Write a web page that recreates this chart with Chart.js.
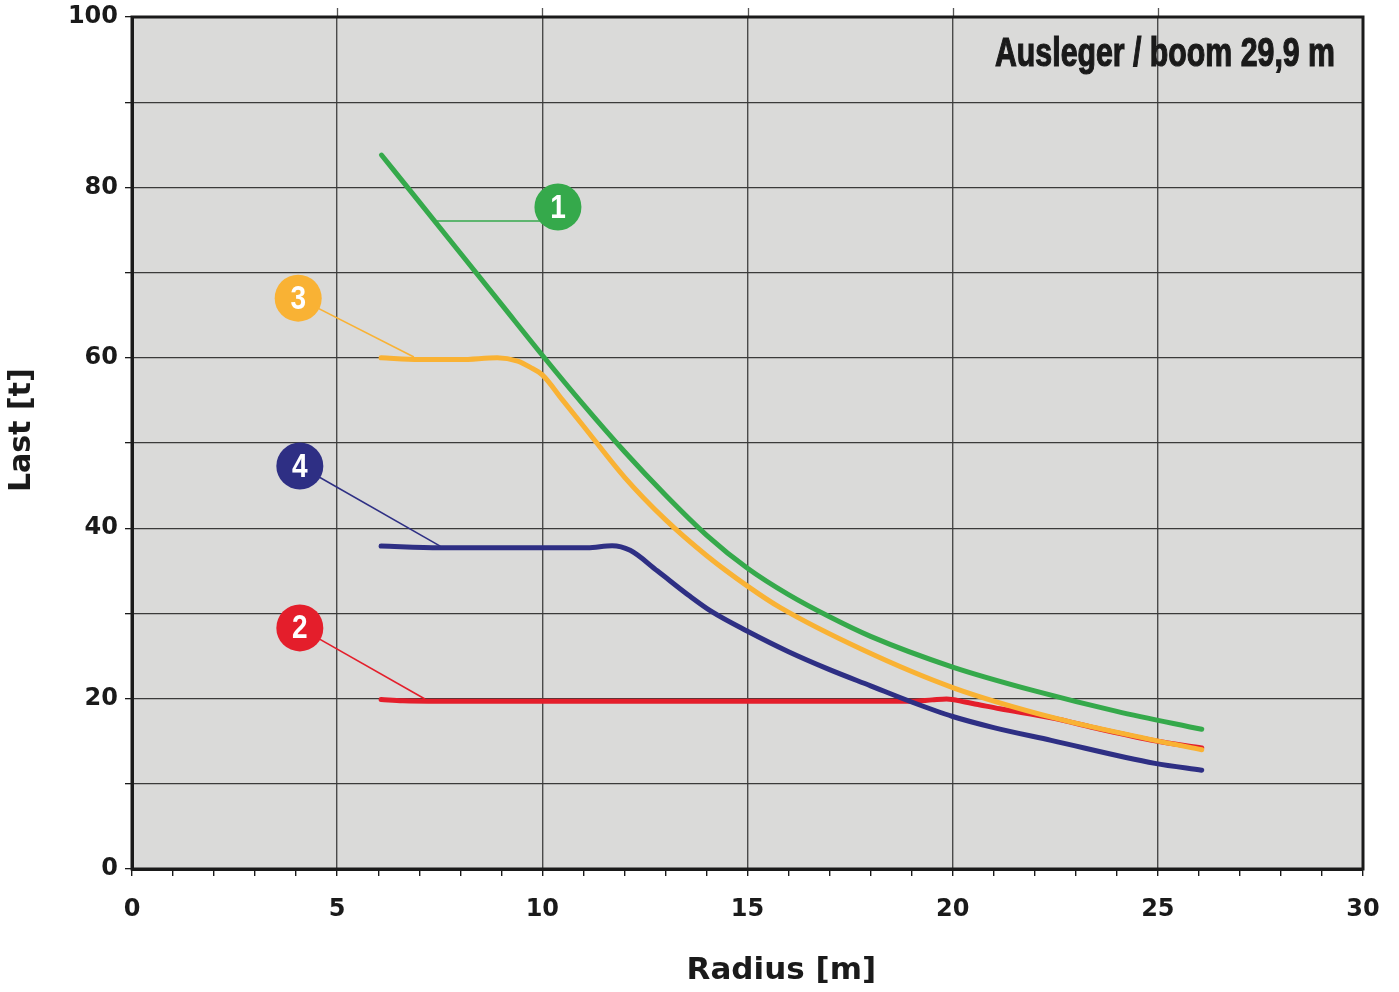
<!DOCTYPE html>
<html>
<head>
<meta charset="utf-8">
<script src="https://cdn.jsdelivr.net/npm/chart.js@4.4.0/dist/chart.umd.min.js"></script>
<style>
html,body{margin:0;padding:0;background:#fff;}
#wrap{width:1399px;height:992px;position:relative;}
</style>
</head>
<body>
<div id="wrap"><canvas id="c" width="1399" height="992"></canvas></div>
<script>
// ---- data ----
const xTitle = "Radius [m]";
const yTitle = "Last [t]";
const boomLabel = "Ausleger / boom 29,9 m";

const r1 = [6.08, 7.0, 8.0, 9.0, 10.0, 11.0, 12.0, 13.0, 14.0, 15.0, 16.0, 17.0, 18.0, 20.0, 22.0, 24.0, 26.07];
const load1 = [83.8, 78.3, 72.3, 66.3, 60.3, 54.5, 49.0, 43.9, 39.2, 35.3, 32.2, 29.6, 27.3, 23.7, 20.9, 18.5, 16.4];

const r3 = [6.07, 7.0, 8.0, 8.9, 9.4, 9.7, 10.0, 10.5, 11.0, 12.0, 13.0, 14.0, 15.0, 15.79, 17.82, 20.0, 22.5, 24.93, 26.07];
const load3 = [60.0, 59.8, 59.8, 60.0, 59.6, 58.9, 58.0, 55.0, 52.0, 46.0, 41.0, 36.8, 33.2, 30.7, 25.7, 21.3, 17.7, 15.1, 14.0];

const r4 = [6.07, 7.5, 9.0, 11.1, 11.7, 12.14, 12.8, 13.6, 14.13, 15.0, 16.0, 17.0, 18.0, 19.0, 20.0, 21.0, 22.4, 24.93, 26.07];
const load4 = [37.9, 37.7, 37.7, 37.7, 37.95, 37.4, 35.0, 32.0, 30.2, 27.9, 25.5, 23.4, 21.5, 19.6, 17.9, 16.6, 15.1, 12.4, 11.6];

const r2 = [6.07, 6.6, 7.5, 10.0, 15.0, 19.0, 19.5, 19.85, 20.3, 20.67, 21.15, 22.4, 23.6, 24.93, 26.07];
const load2 = [19.9, 19.75, 19.7, 19.7, 19.7, 19.7, 19.85, 19.95, 19.6, 19.25, 18.8, 17.75, 16.4, 15.05, 14.2];

const seriesNames = ["1", "2", "3", "4"];
const seriesColors = ["#35a94b", "#e41e2b", "#f9b234", "#2e2f84"];

// annotation bubbles: [label, circleX, circleY, leaderX, leaderY, horizontalLeader] in data units
const bubbles = [
  ["1", 10.38, 77.7, 7.43, 76.06, true],
  ["3", 4.05, 67.0, 6.87, 60.1, false],
  ["4", 4.09, 47.3, 7.51, 37.9, false],
  ["2", 4.09, 28.3, 7.14, 19.95, false]
];

function pts(xs, ys){ return xs.map((x,i)=>({x:x, y:ys[i]})); }

const TICK_FONT = {family:"'DejaVu Sans', sans-serif", weight:'bold', size:24};

const bgPlugin = {
  id:'bg',
  beforeDraw(chart){
    const {ctx, chartArea:a} = chart;
    ctx.save();
    ctx.fillStyle = '#dadad9';
    ctx.fillRect(a.left, a.top, a.right-a.left, a.bottom-a.top);
    ctx.restore();
  },
  afterDraw(chart){
    const {ctx, chartArea:a, scales} = chart;
    ctx.save();
    ctx.strokeStyle = '#555';
    ctx.lineWidth = 1.3;
    [5,10,15,20,25].forEach(v=>{
      const px = Math.round(scales.x.getPixelForValue(v))+0.5;
      ctx.beginPath(); ctx.moveTo(px, a.top-9); ctx.lineTo(px, a.top); ctx.stroke();
    });
    ctx.strokeStyle = '#1a1a1a';
    ctx.lineWidth = 3;
    ctx.strokeRect(a.left, a.top, a.right-a.left, a.bottom-a.top);
    // axis titles
    ctx.fillStyle = '#1a1a1a';
    ctx.textAlign = 'center';
    ctx.textBaseline = 'middle';
    ctx.font = "bold 31px 'DejaVu Sans', sans-serif";
    ctx.fillText(xTitle, a.left + (a.right-a.left)*0.5275, 971);
    ctx.save();
    ctx.translate(22, a.top + (a.bottom-a.top)*0.485);
    ctx.rotate(-Math.PI/2);
    ctx.font = "bold 30px 'DejaVu Sans', sans-serif";
    ctx.fillText(yTitle, 0, 0);
    ctx.restore();
    ctx.restore();
  }
};

const R = 23.5;
const annoPlugin = {
  id:'anno',
  afterDatasetsDraw(chart){
    const {ctx, scales, chartArea:a} = chart;
    const colorOf = {};
    seriesNames.forEach((n,i)=>colorOf[n]=seriesColors[i]);
    ctx.save();
    bubbles.forEach(b=>{
      const [lab, cx, cy, lx, ly, horiz] = b;
      const px = scales.x.getPixelForValue(cx), py = scales.y.getPixelForValue(cy);
      const qx = scales.x.getPixelForValue(lx), qy = scales.y.getPixelForValue(ly);
      const col = colorOf[lab];
      ctx.strokeStyle = col;
      ctx.lineWidth = 1.6;
      ctx.beginPath();
      if (horiz) {
        const dy = Math.min(Math.abs(qy - py), R - 1);
        ctx.moveTo(px - Math.sqrt(R*R - dy*dy) + 2, qy);
      } else {
        ctx.moveTo(px, py);
      }
      ctx.lineTo(qx, qy); ctx.stroke();
      ctx.fillStyle = col;
      ctx.beginPath(); ctx.arc(px, py, R, 0, Math.PI*2); ctx.fill();
      ctx.fillStyle = '#fff';
      ctx.font = "bold 33px 'Liberation Sans Narrow', 'Liberation Sans', sans-serif";
      ctx.textAlign = 'center';
      ctx.textBaseline = 'middle';
      ctx.save();
      ctx.translate(px, py+1.5);
      ctx.scale(0.85, 1);
      ctx.fillText(lab, 0, 0);
      ctx.restore();
    });
    // boom label, condensed
    ctx.font = "bold 40px 'Liberation Sans Narrow', 'Liberation Sans', sans-serif";
    ctx.fillStyle = '#1a1a1a';
    ctx.strokeStyle = '#1a1a1a';
    ctx.lineWidth = 1.2;
    ctx.textAlign = 'left';
    ctx.textBaseline = 'alphabetic';
    const w = ctx.measureText(boomLabel).width;
    const target = 340;
    const right = a.right - 28;
    ctx.save();
    ctx.translate(right - target, a.top + 49);
    ctx.scale(target/w, 1);
    ctx.fillText(boomLabel, 0, 0);
    ctx.strokeText(boomLabel, 0, 0);
    ctx.restore();
    ctx.restore();
  }
};

const series = [
  {name:"1", xs:r1, ys:load1, order:1},
  {name:"2", xs:r2, ys:load2, order:4},
  {name:"3", xs:r3, ys:load3, order:2},
  {name:"4", xs:r4, ys:load4, order:3}
];

new Chart(document.getElementById('c'), {
  type:'line',
  data:{
    datasets: series.map((s,i)=>({
      label:s.name,
      data:pts(s.xs, s.ys),
      borderColor:seriesColors[i],
      backgroundColor:seriesColors[i],
      borderWidth:5,
      pointRadius:0,
      tension:0.4,
      cubicInterpolationMode:'monotone',
      borderCapStyle:'round',
      borderJoinStyle:'round',
      order:s.order,
      fill:false
    }))
  },
  options:{
    responsive:false,
    animation:false,
    devicePixelRatio:1,
    layout:{padding:{top:17, right:36, left:0, bottom:0}},
    plugins:{legend:{display:false}, tooltip:{enabled:false}},
    scales:{
      x:{
        type:'linear', min:0, max:30,
        afterFit(s){ s.height = 123; s.paddingLeft = 0; s.paddingRight = 0; },
        ticks:{
          stepSize:1, autoSkip:false, maxRotation:0,
          color:'#1a1a1a', font:TICK_FONT, padding:19,
          callback:(v)=> (v%5===0 ? String(v) : '')
        },
        grid:{
          drawOnChartArea:true, drawTicks:true, tickLength:7,
          color:(c)=> (c.tick && c.tick.value%5===0 ? '#4a4a4a' : 'rgba(0,0,0,0)'),
          tickColor:'#1a1a1a', lineWidth:1.4, tickWidth:1.4
        },
        border:{display:true, color:'#1a1a1a', width:3},
        title:{display:false}
      },
      y:{
        type:'linear', min:0, max:100,
        afterFit(s){ s.width = 132; s.paddingTop = 0; s.paddingBottom = 0; },
        ticks:{
          stepSize:10, color:'#1a1a1a', font:TICK_FONT, padding:7,
          callback:(v)=> (v%20===0 ? String(v) : '')
        },
        grid:{
          drawOnChartArea:true, drawTicks:true, tickLength:7,
          color:'#3a3a3a', tickColor:'#1a1a1a', lineWidth:1.3, tickWidth:1.3
        },
        border:{display:true, color:'#1a1a1a', width:3},
        title:{display:false}
      }
    }
  },
  plugins:[bgPlugin, annoPlugin]
});
</script>
</body>
</html>
